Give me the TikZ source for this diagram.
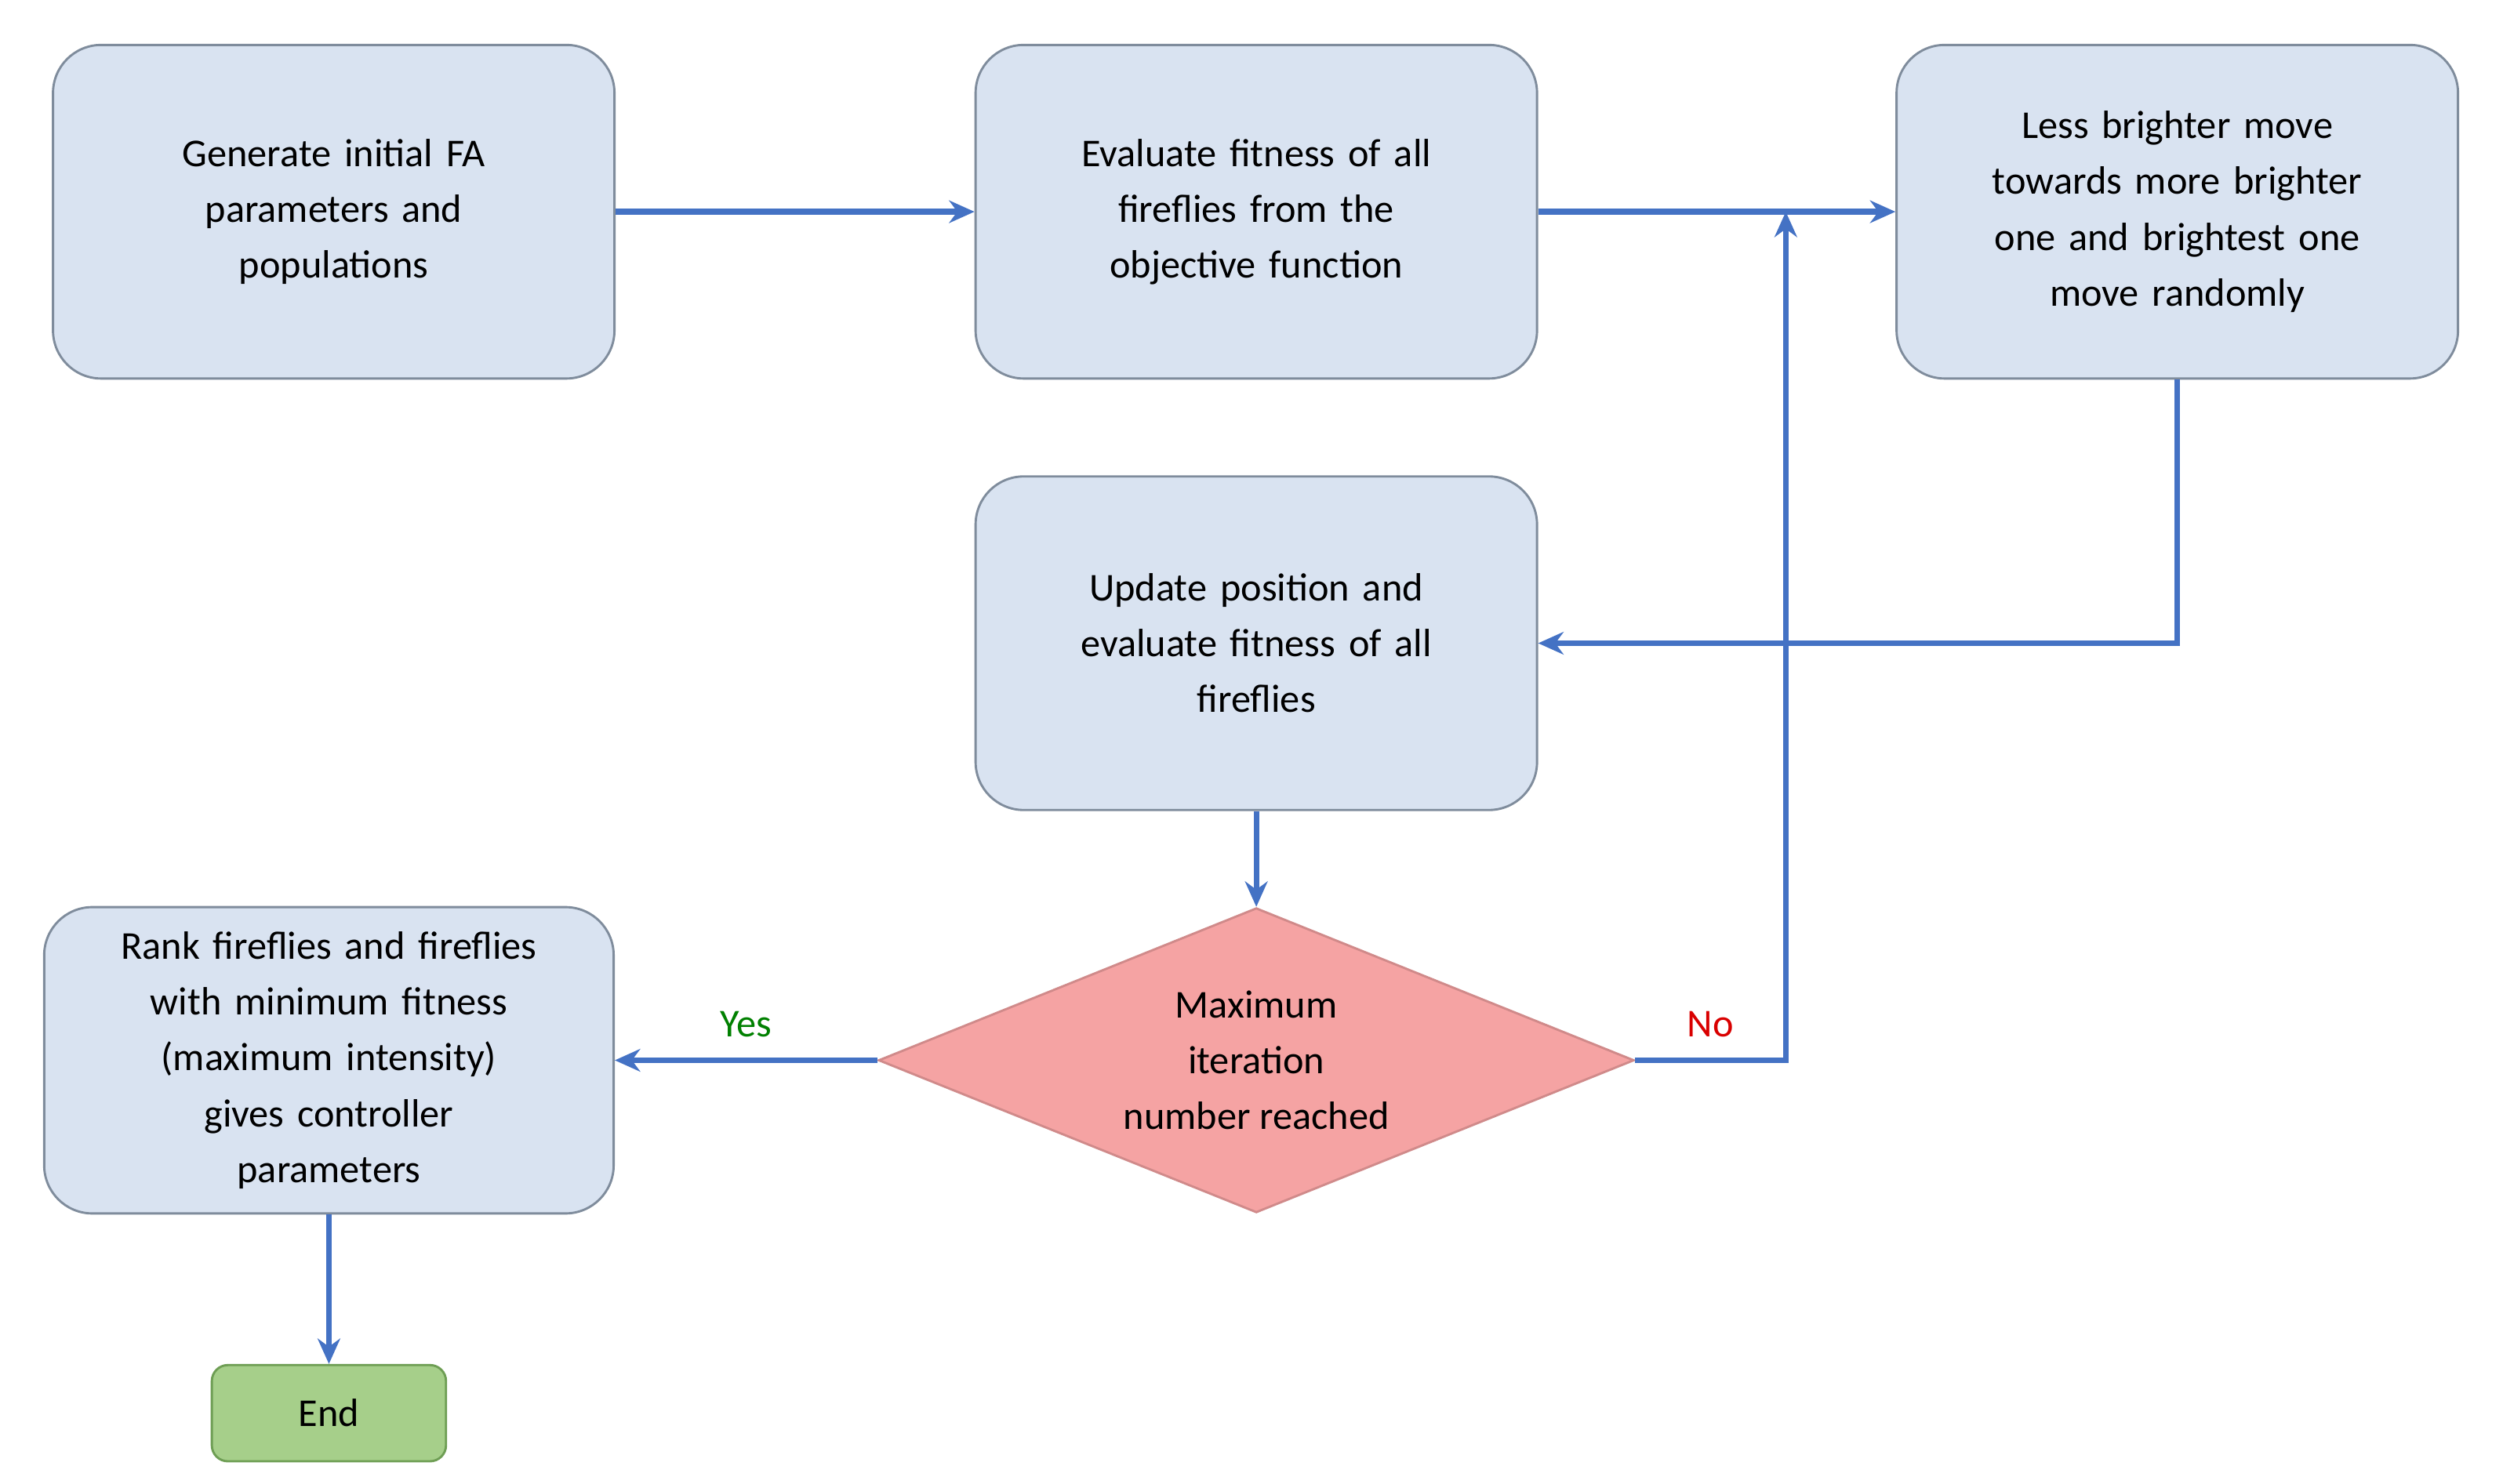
\documentclass[tikz,border=0pt]{standalone}
\usepackage{fontspec}
\setmainfont{Carlito}
\usetikzlibrary{shapes.geometric,arrows.meta}
\definecolor{boxfill}{HTML}{D9E3F1}
\definecolor{boxdraw}{HTML}{7F8C9C}
\definecolor{arr}{HTML}{4472C4}
\definecolor{dfill}{HTML}{F5A3A3}
\definecolor{ddraw}{HTML}{D08A8A}
\definecolor{efill}{HTML}{A6CF8A}
\definecolor{edraw}{HTML}{6E9E54}
\begin{document}
\begin{tikzpicture}[x=0.02cm,y=-0.02cm,
  font=\fontsize{14}{19.8}\selectfont,
  box/.style={draw=boxdraw,fill=boxfill,line width=0.8pt,rounded corners=0.6cm,minimum width=7cm,minimum height=4.16cm,align=center,text width=5.6cm},
  dia/.style={diamond,draw=ddraw,fill=dfill,line width=0.8pt,minimum width=9.42cm,minimum height=3.8cm,aspect=2.48,align=center,inner sep=0pt},
  fl/.style={draw=arr,line width=2pt,-{Stealth[length=9pt,width=8pt]}}]
\useasboundingbox (0,0) rectangle (1560,925);
\node[box] (a) at (208,132) {Generate initial FA\\parameters and\\populations};
\node[box] (b) at (783,132) {Evaluate fitness of all\\fireflies from the\\objective function};
\node[box] (c) at (1357,132) {Less brighter move\\towards more brighter\\one and brightest one\\move randomly};
\node[box] (d) at (783,401) {Update position and\\evaluate fitness of all\\fireflies};
\node[box,minimum width=7.1cm,minimum height=3.82cm,text width=6.4cm] (e) at (205,661) {Rank fireflies and fireflies\\with minimum fitness\\(maximum intensity)\\gives controller\\parameters};
\node[dia] (m) at (783,661) {Maximum\\iteration\\number reached};
\node[draw=edraw,fill=efill,line width=0.8pt,rounded corners=0.2cm,minimum width=2.92cm,minimum height=1.2cm] (end) at (205,881) {End};
\coordinate (j) at (1113,132);
\draw[fl] (a) -- (b);
\draw[fl] (b) -- (c);
\draw[fl] (c.south) |- (d.east);
\draw[fl] (d) -- (m);
\draw[fl] (m.west) -- node[above=4pt,text=green!50!black,pos=0.5]{Yes} (e.east);
\draw[fl] (m.east) -- node[above=4pt,text=red!85!black]{No} (m.east -| j) -- (j);
\draw[fl] (e) -- (end);
\end{tikzpicture}
\end{document}
